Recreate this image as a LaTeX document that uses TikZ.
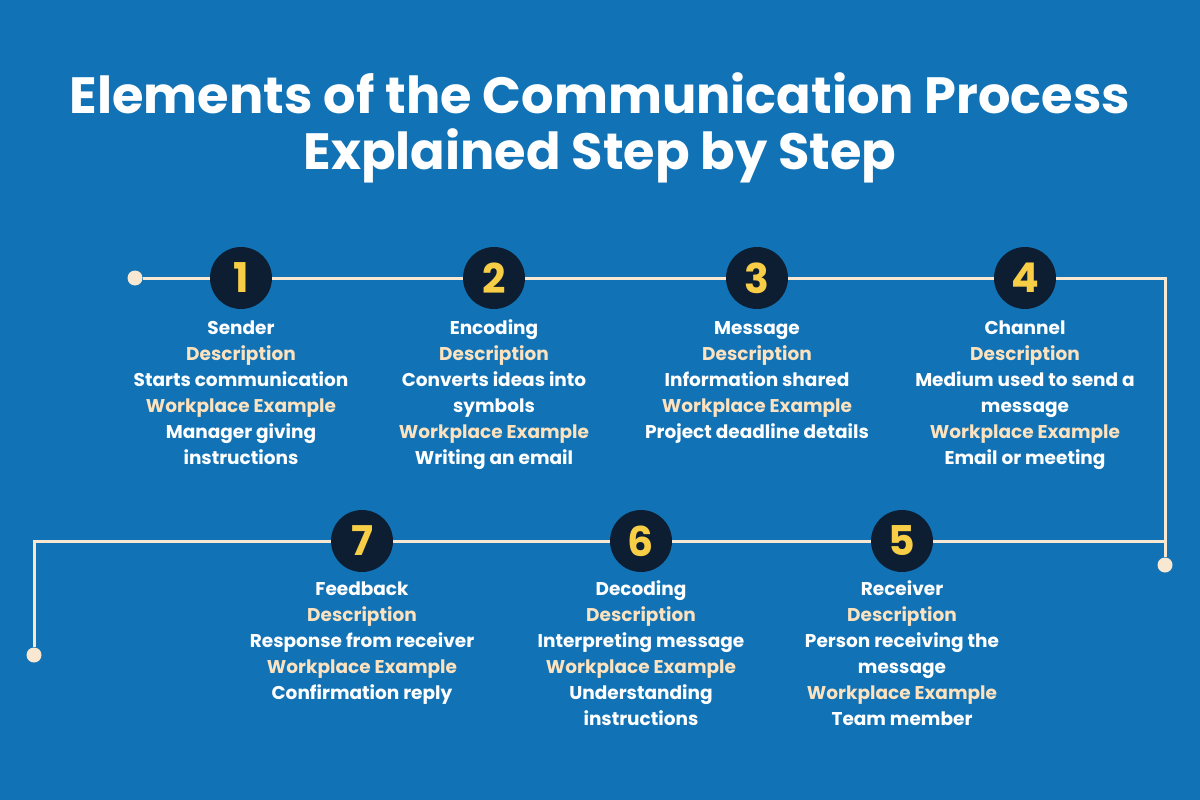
\documentclass[tikz,border=0pt]{standalone}
\usepackage{fontspec}
\setmainfont{Poppins}[BoldFont={* Bold}]
\definecolor{bg}{RGB}{17,115,182}
\definecolor{navy}{RGB}{14,30,50}
\definecolor{yel}{RGB}{247,206,70}
\definecolor{cream}{RGB}{248,232,210}
\definecolor{lab}{RGB}{252,226,190}
\begin{document}
\begin{tikzpicture}[x=1pt,y=-1pt,
  num/.style={circle,fill=navy,minimum size=62pt,inner sep=0pt,text=yel,font=\fontsize{41}{41}\selectfont\bfseries},
  dot/.style={circle,fill=cream,minimum size=15pt,inner sep=0pt},
  ln/.style={draw=cream,line width=3pt},
  txt/.style={anchor=base,align=center,text=white,inner sep=0pt,font=\fontsize{18.5}{26}\selectfont\bfseries}]
\fill[bg] (0,0) rectangle (1200,800);
\useasboundingbox (0,0) rectangle (1200,800);
\node[text=white,align=center,font=\fontsize{51}{56}\selectfont\bfseries] (title) at (600,128) {Elements of the Communication Process\\Explained Step by Step};
\coordinate (tr) at (1165,278);
\coordinate (br) at (1165,541);
\coordinate (bl) at (34,541);
\node[dot] (d1) at (135,278) {};
\node[dot] (d2) at (1165,565) {};
\node[dot] (d3) at (34,655) {};
\draw[ln] (d1) -- (tr) -- (d2);
\draw[ln] (br) -- (bl) -- (d3);
\newcommand\lb[1]{\textcolor{lab}{#1}}
\node[num] (n1) at (241,278) {1};
\node[num] (n2) at (494,278) {2};
\node[num] (n3) at (757,278) {3};
\node[num] (n4) at (1025,278) {4};
\node[num] (n7) at (362,541) {7};
\node[num] (n6) at (641,541) {6};
\node[num] (n5) at (902,541) {5};
\node[txt] (t1) at (241,464) {Sender\\\lb{Description}\\Starts communication\\\lb{Workplace Example}\\Manager giving\\instructions};
\node[txt] (t2) at (494,464) {Encoding\\\lb{Description}\\Converts ideas into\\symbols\\\lb{Workplace Example}\\Writing an email};
\node[txt] (t3) at (757,438) {Message\\\lb{Description}\\Information shared\\\lb{Workplace Example}\\Project deadline details};
\node[txt] (t4) at (1025,464) {Channel\\\lb{Description}\\Medium used to send a\\message\\\lb{Workplace Example}\\Email or meeting};
\node[txt] (t7) at (362,699) {Feedback\\\lb{Description}\\Response from receiver\\\lb{Workplace Example}\\Confirmation reply};
\node[txt] (t6) at (641,725) {Decoding\\\lb{Description}\\Interpreting message\\\lb{Workplace Example}\\Understanding\\instructions};
\node[txt] (t5) at (902,725) {Receiver\\\lb{Description}\\Person receiving the\\message\\\lb{Workplace Example}\\Team member};
\end{tikzpicture}
\end{document}
